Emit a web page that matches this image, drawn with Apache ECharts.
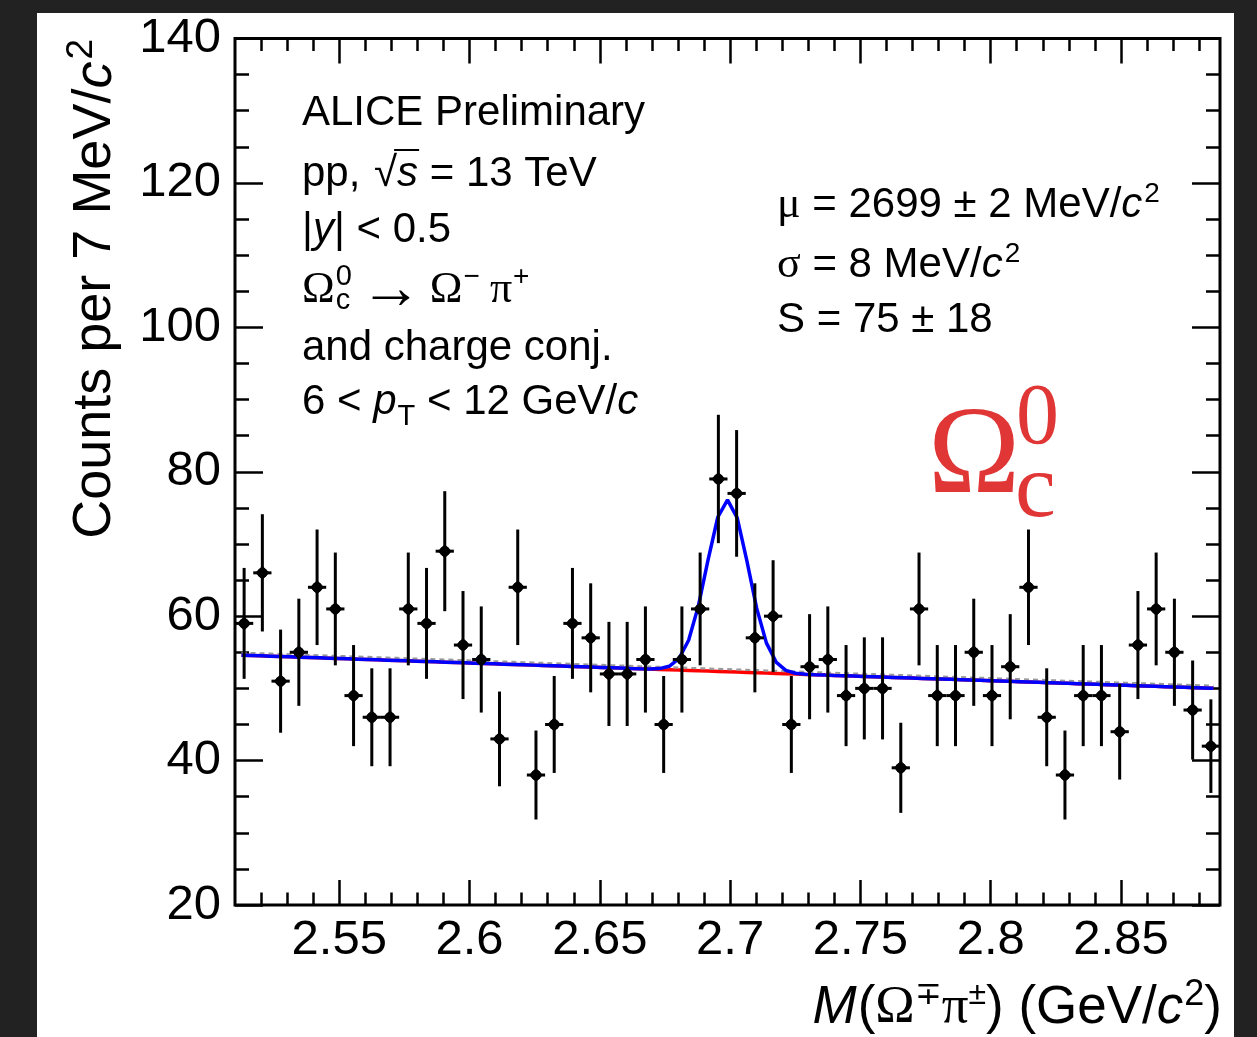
<!DOCTYPE html>
<html><head><meta charset="utf-8">
<script src="https://cdn.jsdelivr.net/npm/echarts@6/dist/echarts.min.js"></script>
<style>
html,body{margin:0;padding:0;background:#222222;width:1257px;height:1037px;overflow:hidden}
#panel{position:absolute;left:37px;top:13px;width:1197px;height:1024px;background:#ffffff}
#chart{position:absolute;left:0;top:0;width:1257px;height:1037px}
</style></head><body><div id="panel"></div><div id="chart"></div>
<script>
// ---------------- data ----------------
const binCenters = [
  2.5135, 2.5205, 2.5275, 2.5345, 2.5415, 2.5485, 2.5555, 2.5625, 2.5695, 2.5765,
  2.5835, 2.5905, 2.5975, 2.6045, 2.6115, 2.6185, 2.6255, 2.6325, 2.6395, 2.6465,
  2.6535, 2.6605, 2.6675, 2.6745, 2.6815, 2.6885, 2.6955, 2.7025, 2.7095, 2.7165,
  2.7235, 2.7305, 2.7375, 2.7445, 2.7515, 2.7585, 2.7655, 2.7725, 2.7795, 2.7865,
  2.7935, 2.8005, 2.8075, 2.8145, 2.8215, 2.8285, 2.8355, 2.8425, 2.8495, 2.8565,
  2.8635, 2.8705, 2.8775, 2.8845
];
const counts = [
  59, 66, 51, 55, 64, 61, 49, 46, 46, 61,
  59, 69, 56, 54, 43, 64, 38, 45, 59, 57,
  52, 52, 54, 45, 54, 61, 79, 77, 57, 60,
  45, 53, 54, 49, 50, 50, 39, 61, 49, 49,
  55, 49, 53, 64, 46, 38, 49, 49, 44, 56,
  61, 55, 47, 42
];
const countErrors = [
  7.68, 8.12, 7.14, 7.42, 8.00, 7.81, 7.00, 6.78, 6.78, 7.81,
  7.68, 8.31, 7.48, 7.35, 6.56, 8.00, 6.16, 6.71, 7.68, 7.55,
  7.21, 7.21, 7.35, 6.71, 7.35, 7.81, 8.89, 8.77, 7.55, 7.75,
  6.71, 7.28, 7.35, 7.00, 7.07, 7.07, 6.24, 7.81, 7.00, 7.00,
  7.42, 7.00, 7.28, 8.00, 6.78, 6.16, 7.00, 7.00, 6.63, 7.48,
  7.81, 7.42, 6.86, 6.48
];
const binHalfWidth = 0.0035;
const xMajorTicks = [2.55, 2.6, 2.65, 2.7, 2.75, 2.8, 2.85];
const xMinorTicks = [2.52, 2.53, 2.54, 2.56, 2.57, 2.58, 2.59, 2.61, 2.62, 2.63, 2.64,
  2.66, 2.67, 2.68, 2.69, 2.71, 2.72, 2.73, 2.74, 2.76, 2.77, 2.78, 2.79,
  2.81, 2.82, 2.83, 2.84, 2.86, 2.87, 2.88];
const xRange = [2.51, 2.888];
const yRange = [20, 140];
const yInterval = 20;

// fit parameters (Gaussian signal + linear background)
const fitMu = 2.699;
const fitSigma = 0.008;
const fitAmplitude = 23.8;
const bgAt2p7 = 52.29;
const bgSlope = -12.3;
const bgAltOffset = 0.35;
const fitRange = [2.5125, 2.8855];
const fitNpx = 100;

// ---------------- helpers ----------------
const SANS = '"Liberation Sans", Arial, Helvetica, sans-serif';
const SERIF = '"Liberation Serif", "DejaVu Serif", "Times New Roman", serif';
const DJ = '"DejaVu Sans", sans-serif';
function bg(x) { return bgAt2p7 + bgSlope * (x - 2.7); }
function total(x) { return bg(x) + fitAmplitude * Math.exp(-0.5 * Math.pow((x - fitMu) / fitSigma, 2)); }
const fitX = [];
for (let i = 0; i <= fitNpx; i++) fitX.push(fitRange[0] + (fitRange[1] - fitRange[0]) * i / fitNpx);
const totalCurve = fitX.map(x => [x, total(x)]);
const bgCurve = fitX.map(x => [x, bg(x)]);
const bgAltCurve = fitX.map(x => [x, bg(x) + bgAltOffset]);

const mctx = document.createElement('canvas').getContext('2d');
function fontStr(p) {
  const fam = p.fam === 'serif' ? SERIF : (p.fam === 'dj' ? DJ : SANS);
  return (p.it ? 'italic ' : '') + p.size + 'px ' + fam;
}
function layout(parts, baseSize, color) {
  let cur = 0, prevStart = 0;
  const items = [];
  for (const p0 of parts) {
    const p = Object.assign({ size: baseSize, fam: 'sans', it: false, dy: 0, gap: 0 }, p0);
    const font = fontStr(p);
    mctx.font = font;
    const w = mctx.measureText(p.t).width;
    let x;
    if (p.stack) { x = prevStart; cur = Math.max(cur, x + w); }
    else { x = cur + p.gap; cur = x + w; }
    prevStart = x;
    items.push({ x, w, p, font });
  }
  const els = [];
  for (const it of items) {
    els.push({
      type: 'text', x: it.x, y: it.p.dy, silent: true,
      style: { text: it.p.t, font: it.font, fill: color || '#000',
        textAlign: 'left', textVerticalAlign: 'middle', align: 'left', verticalAlign: 'middle' }
    });
    if (it.p.over) {
      const oy = it.p.dy - it.p.over;
      els.push({ type: 'line', silent: true,
        shape: { x1: it.x - 3, y1: oy, x2: it.x + it.w + 1, y2: oy },
        style: { stroke: color || '#000', lineWidth: 2 } });
    }
  }
  return { els, width: cur };
}
function placed(parts, baseSize, x, y, anchor, color, rotation) {
  const L = layout(parts, baseSize, color);
  let gx = x, gy = y;
  if (anchor === 'right') {
    if (rotation) { gy = y + L.width; } else { gx = x - L.width; }
  }
  return { type: 'group', x: gx, y: gy, rotation: rotation || 0, children: L.els };
}

// ---------------- texts ----------------
const S42 = 42;
const RED = '#e03636';
const graphics = [
  placed([
    { t: 'Counts per 7 MeV/' },
    { t: 'c', it: true },
    { t: '2', size: 37, dy: -14, gap: 2 }
  ], 54, 95.5, 39, 'right', '#000', Math.PI / 2),
  placed([
    { t: 'M', it: true },
    { t: '(' , gap: 1 },
    { t: '\u03A9', fam: 'serif' },
    { t: '\u2213', size: 32, dy: -13 },
    { t: '\u03C0', fam: 'serif' },
    { t: '\u00B1', size: 32, dy: -13 },
    { t: ') (GeV/' },
    { t: 'c', it: true },
    { t: '2', size: 36, dy: -13, gap: 1 },
    { t: ')' }
  ], 53, 1222, 1008, 'right'),
  placed([{ t: 'ALICE Preliminary' }], S42, 302, 113, 'left'),
  placed([
    { t: 'pp, ' },
    { t: '\u221A', gap: 2 },
    { t: 's', it: true, over: 24 },
    { t: ' = 13 TeV' }
  ], S42, 302, 174, 'left'),
  placed([
    { t: '|' },
    { t: 'y', it: true },
    { t: '| < 0.5' }
  ], S42, 302, 230, 'left'),
  placed([
    { t: '\u03A9', fam: 'serif', size: 44 },
    { t: 'c', size: 29, dy: 11, gap: 1 },
    { t: '0', size: 29, dy: -13, stack: true },
    { t: '\u2192', fam: 'serif', size: 62, dy: 2, gap: 8 },
    { t: '\u03A9', fam: 'serif', size: 44, gap: 8 },
    { t: '\u2212', size: 28, dy: -13, gap: 1 },
    { t: '\u03C0', fam: 'serif', size: 44, gap: 10 },
    { t: '+', size: 28, dy: -13, gap: 1 }
  ], S42, 302, 290, 'left'),
  placed([{ t: 'and charge conj.' }], S42, 302, 348, 'left'),
  placed([
    { t: '6 < ' },
    { t: 'p', it: true },
    { t: 'T', size: 29, dy: 15, gap: 1 },
    { t: ' < 12 GeV/' },
    { t: 'c', it: true }
  ], S42, 302, 402, 'left'),
  placed([
    { t: '\u03BC', fam: 'serif', size: 44 },
    { t: ' = 2699 \u00B1 2 MeV/' },
    { t: 'c', it: true },
    { t: '2', size: 28, dy: -11, gap: 2 }
  ], S42, 777, 205, 'left'),
  placed([
    { t: '\u03C3', fam: 'serif', size: 44 },
    { t: ' = 8 MeV/' },
    { t: 'c', it: true },
    { t: '2', size: 28, dy: -11, gap: 2 }
  ], S42, 777, 265, 'left'),
  placed([{ t: 'S = 75 \u00B1 18' }], S42, 777, 320, 'left'),
  { type: 'text', x: 928, y: 459, silent: true,
    style: { text: '\u03A9', font: '124px ' + SERIF, fill: RED,
      textAlign: 'left', textVerticalAlign: 'middle', align: 'left', verticalAlign: 'middle' } },
  { type: 'text', x: 1016, y: 420, silent: true,
    style: { text: '0', font: '86px ' + SERIF, fill: RED,
      textAlign: 'left', textVerticalAlign: 'middle', align: 'left', verticalAlign: 'middle' } },
  { type: 'text', x: 1015, y: 492, silent: true,
    style: { text: 'c', font: '92px ' + SERIF, fill: RED,
      textAlign: 'left', textVerticalAlign: 'middle', align: 'left', verticalAlign: 'middle' } }
];

// ---------------- chart ----------------
const chart = echarts.init(document.getElementById('chart'), null, { renderer: 'canvas' });
const tickStyle = { color: '#000', width: 2.5 };
function xAxisDef(pos, ticks, len, labels) {
  return {
    type: 'value', position: pos, min: xRange[0], max: xRange[1],
    axisLine: { show: false, onZero: false },
    splitLine: { show: false },
    axisTick: { show: true, inside: true, length: len, customValues: ticks, lineStyle: tickStyle },
    axisLabel: labels ? {
      show: true, customValues: xMajorTicks, margin: 11, fontSize: 49, color: '#000',
      fontFamily: SANS, formatter: v => String(+(+v).toFixed(2))
    } : { show: false }
  };
}
function yAxisDef(pos, labels, len, mlen) {
  return {
    type: 'value', position: pos, min: yRange[0], max: yRange[1], interval: yInterval,
    axisLine: { show: false, onZero: false },
    splitLine: { show: false },
    axisTick: { show: true, inside: true, length: len, lineStyle: tickStyle },
    minorTick: { show: true, splitNumber: 4, length: mlen, lineStyle: tickStyle },
    minorSplitLine: { show: false },
    axisLabel: labels ? { show: true, margin: 14, fontSize: 49, color: '#000', fontFamily: SANS } : { show: false }
  };
}

chart.setOption({
  animation: false,
  backgroundColor: 'transparent',
  grid: { left: 235, right: 37, top: 38.5, bottom: 132, show: true,
    borderColor: '#000', borderWidth: 3, backgroundColor: 'transparent', containLabel: false },
  xAxis: [
    xAxisDef('bottom', xMajorTicks, 25, true),
    xAxisDef('bottom', xMinorTicks, 12.5, false),
    xAxisDef('top', xMajorTicks, 25, false),
    xAxisDef('top', xMinorTicks, 12.5, false)
  ],
  yAxis: [
    yAxisDef('left', true, 28, 14),
    yAxisDef('right', false, 28, 14)
  ],
  series: [
    { type: 'line', xAxisIndex: 0, yAxisIndex: 0, data: bgCurve, showSymbol: false, symbol: 'none',
      lineStyle: { color: '#ff0000', width: 3.5 }, z: 2, silent: true },
    { type: 'line', xAxisIndex: 0, yAxisIndex: 0, data: bgAltCurve, showSymbol: false, symbol: 'none',
      lineStyle: { color: '#9a9a9a', width: 2.2, type: [5, 4] }, z: 2, silent: true },
    { type: 'line', xAxisIndex: 0, yAxisIndex: 0, data: totalCurve, showSymbol: false, symbol: 'none',
      lineStyle: { color: '#0000ff', width: 3.5 }, z: 3, silent: true },
    { type: 'custom', xAxisIndex: 0, yAxisIndex: 0, z: 4, silent: true,
      data: binCenters.map((x, i) => [x, counts[i], countErrors[i]]),
      encode: { x: 0, y: 1 },
      renderItem: function (params, api) {
        const x = api.value(0), y = api.value(1), e = api.value(2);
        const c = api.coord([x, y]);
        const top = api.coord([x, y + e]);
        const bot = api.coord([x, y - e]);
        const l = api.coord([x - binHalfWidth, y]);
        const r = api.coord([x + binHalfWidth, y]);
        return { type: 'group', children: [
          { type: 'line', shape: { x1: c[0], y1: top[1], x2: c[0], y2: bot[1] }, style: { stroke: '#000', lineWidth: 3 } },
          { type: 'line', shape: { x1: l[0], y1: c[1], x2: r[0], y2: c[1] }, style: { stroke: '#000', lineWidth: 3 } },
          { type: 'polygon', shape: { points: [[c[0], c[1] - 7], [c[0] + 7, c[1]], [c[0], c[1] + 7], [c[0] - 7, c[1]]] }, style: { fill: '#000' } },
          { type: 'circle', shape: { cx: c[0], cy: c[1], r: 5.2 }, style: { fill: '#000' } }
        ] };
      }
    }
  ],
  graphic: { elements: graphics }
});
</script></body></html>
